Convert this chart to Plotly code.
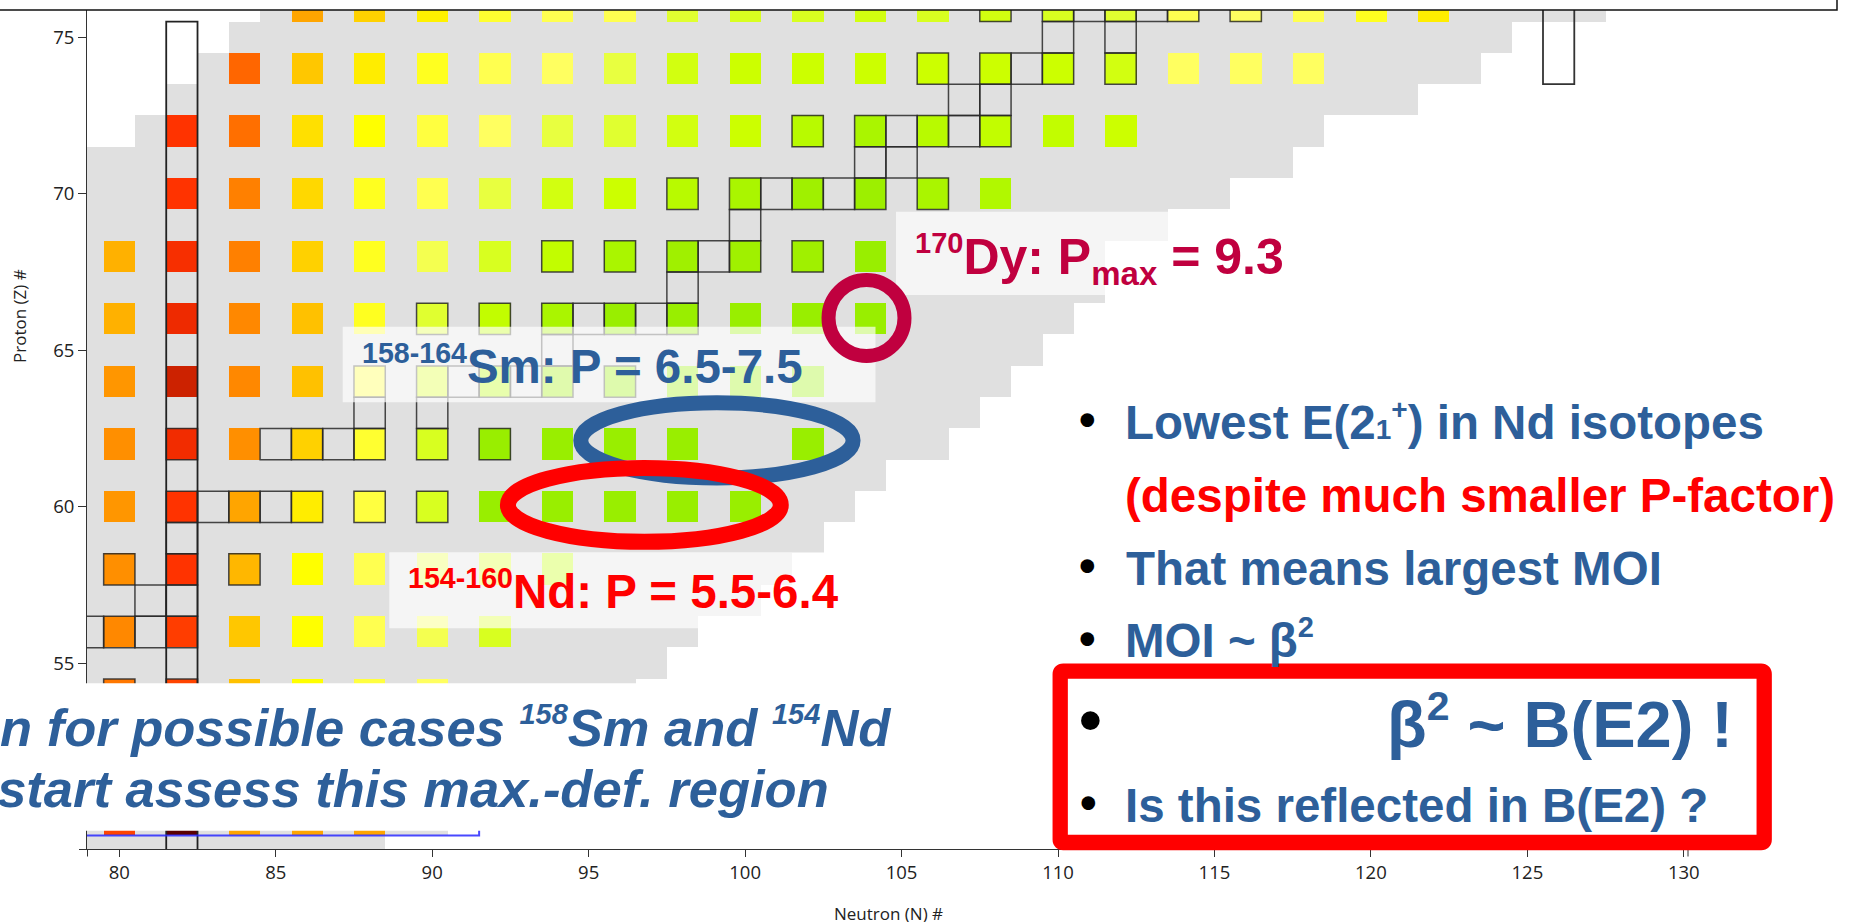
import plotly.graph_objects as go

# ------------------------------------------------------------------ data
# rows of the nuclear chart (proton number) and the neutron span of known nuclides
Z_ROWS     = [49, 50, 51, 52, 53, 54, 55, 56, 57, 58, 59, 60, 61, 62, 63, 64, 65, 66, 67, 68, 69, 70, 71, 72, 73, 74, 75, 76]
GRAY_N_MIN = [70, 70, 70, 70, 70, 70, 70, 70, 70, 70, 70, 70, 70, 70, 70, 70, 70, 70, 70, 70, 70, 70, 70, 81, 82, 83, 84, 85]
GRAY_N_MAX = [88, 90, 92, 94, 95, 96, 97, 98, 100, 101, 102, 103, 104, 106, 107, 108, 109, 110, 111, 111, 113, 115, 117, 118, 121, 123, 124, 127]

# even-even nuclei: neutron numbers and colour value (0 = maroon ... 100 = green)
N_Z50 = [80, 82, 84, 86, 88]
V_Z50 = [25, 0, 55, 55, 55]
N_Z54 = [80, 82, 84, 86, 88, 90]
V_Z54 = [38, 25, 64, 80, 84, 86]
N_Z56 = [80, 82, 84, 86, 88, 90, 92]
V_Z56 = [44, 23, 66, 80, 85, 87, 90]
N_Z58 = [80, 82, 84, 86, 88, 90, 92, 94]
V_Z58 = [47, 20, 61, 80, 85, 88, 90, 93]
N_Z60 = [80, 82, 84, 86, 88, 90, 92, 94, 96, 98, 100]
V_Z60 = [50, 20, 55, 76, 84, 90, 100, 100, 100, 100, 100]
N_Z62 = [80, 82, 84, 86, 88, 90, 92, 94, 96, 98, 102]
V_Z62 = [47, 17, 47, 69, 83, 90, 100, 100, 100, 100, 100]
N_Z64 = [80, 82, 84, 86, 88, 90, 92, 94, 96, 98, 100, 102]
V_Z64 = [50, 10, 44, 64, 83, 90, 94, 98, 100, 100, 100, 100]
N_Z66 = [80, 82, 84, 86, 88, 90, 92, 94, 96, 98, 100, 102, 104]
V_Z66 = [59, 16, 44, 64, 82, 89, 93, 96, 100, 100, 100, 100, 100]
N_Z68 = [80, 82, 84, 86, 88, 90, 92, 94, 96, 98, 100, 102, 104]
V_Z68 = [59, 18, 41, 69, 82, 87, 90, 93, 96, 98, 98, 98, 100]
N_Z70 = [82, 84, 86, 88, 90, 92, 94, 96, 98, 100, 102, 104, 106, 108]
V_Z70 = [20, 41, 71, 82, 85, 88, 91, 92, 94, 96, 98, 99, 96, 95]
N_Z72 = [82, 84, 86, 88, 90, 92, 94, 96, 98, 100, 102, 104, 106, 108, 110, 112]
V_Z72 = [20, 35, 73, 80, 84, 86, 88, 89, 91, 92, 94, 96, 94, 93, 93, 92]
N_Z74 = [84, 86, 88, 90, 92, 94, 96, 98, 100, 102, 104, 106, 108, 110, 112, 114, 116, 118]
V_Z74 = [32, 66, 76, 82, 85, 86, 88, 91, 92, 92, 92, 92, 92, 92, 91, 86, 86, 86]
N_Z76 = [86, 88, 90, 92, 94, 96, 98, 100, 102, 104, 106, 108, 110, 112, 114, 116, 118, 120, 122]
V_Z76 = [55, 69, 77, 83, 85, 85, 89, 90, 90, 91, 90, 91, 90, 89, 85, 86, 85, 82, 76]

# stable nuclides (outlined cells)
STABLE_Z = [54, 54, 56, 56, 56, 56, 57, 57, 58, 58, 58, 59,
            60, 60, 60, 60, 60, 60, 60, 62, 62, 62, 62, 62, 62, 62, 63, 63,
            64, 64, 64, 64, 64, 64, 64, 65, 66, 66, 66, 66, 66, 66, 66, 67,
            68, 68, 68, 68, 68, 68, 69, 70, 70, 70, 70, 70, 70, 70, 71, 71,
            72, 72, 72, 72, 72, 72, 73, 73, 74, 74, 74, 74, 74, 75, 75,
            76, 76, 76, 76, 76, 76, 76]
STABLE_N = [80, 82, 79, 80, 81, 82, 81, 82, 80, 82, 84, 82,
            82, 83, 84, 85, 86, 88, 90, 82, 85, 86, 87, 88, 90, 92, 88, 90,
            88, 90, 91, 92, 93, 94, 96, 94, 90, 92, 94, 95, 96, 97, 98, 98,
            94, 96, 98, 99, 100, 102, 100, 98, 100, 101, 102, 103, 104, 106, 104, 105,
            102, 104, 105, 106, 107, 108, 107, 108, 106, 108, 109, 110, 112, 110, 112,
            108, 110, 111, 112, 113, 114, 116]

X_TICKS = [80, 85, 90, 95, 100, 105, 110, 115, 120, 125, 130]
Y_TICKS = [55, 60, 65, 70, 75]

COLOR_STOPS = [0, 10, 16, 20, 25, 32, 38, 44, 50, 55, 60, 65, 70, 75, 80, 84, 86, 88, 90, 92, 94, 96, 98, 100]
COLOR_LIST = ['#5a0000', '#cc2200', '#ee2a00', '#ff3300', '#ff4400', '#ff6600', '#ff7700', '#ff8800',
              '#ff9600', '#ffa500', '#ffb400', '#ffc400', '#ffd400', '#ffe800', '#ffff00', '#ffff40',
              '#ffff60', '#e8ff40', '#d8ff20', '#ccff00', '#b8fa00', '#aaf500', '#a0f000', '#99ee00']

# ------------------------------------------------------------------ grids
N_GRID = list(range(68, 132))
Z_GRID = list(range(44, 82))
ee_rows = [(50, N_Z50, V_Z50), (54, N_Z54, V_Z54), (56, N_Z56, V_Z56), (58, N_Z58, V_Z58),
           (60, N_Z60, V_Z60), (62, N_Z62, V_Z62), (64, N_Z64, V_Z64), (66, N_Z66, V_Z66),
           (68, N_Z68, V_Z68), (70, N_Z70, V_Z70), (72, N_Z72, V_Z72), (74, N_Z74, V_Z74),
           (76, N_Z76, V_Z76)]

gray = [[None] * len(N_GRID) for _ in Z_GRID]
for z, lo, hi in zip(Z_ROWS, GRAY_N_MIN, GRAY_N_MAX):
    for n in range(lo, hi + 1):
        gray[Z_GRID.index(z)][N_GRID.index(n)] = 1

col = [[None] * len(N_GRID) for _ in Z_GRID]
for z, ns, vs in ee_rows:
    for n, v in zip(ns, vs):
        col[Z_GRID.index(z)][N_GRID.index(n)] = v

colorscale = [[s / 100.0, c] for s, c in zip(COLOR_STOPS, COLOR_LIST)]

fig = go.Figure()
fig.add_trace(go.Heatmap(x=N_GRID, y=Z_GRID, z=gray, colorscale=[[0, '#e0e0e0'], [1, '#e0e0e0']],
                         showscale=False, hoverinfo='skip', zmin=0, zmax=1))
fig.add_trace(go.Heatmap(x=N_GRID, y=Z_GRID, z=col, colorscale=colorscale, zmin=0, zmax=100,
                         showscale=False, hovertemplate='N=%{x}<br>Z=%{y}<extra></extra>'))

# ------------------------------------------------------------------ geometry helpers (pixels -> paper)
L, R, T, B = 87, 171, 0, 73
W = 1859 - L - R
H = 922 - T - B


def px(x):
    return (x - L) / W


def py(y):
    return (T + H - y) / H


shapes = []
for z, n in zip(STABLE_Z, STABLE_N):
    shapes.append(dict(type='rect', xref='x', yref='y', x0=n - 0.5, x1=n + 0.5, y0=z - 0.5, y1=z + 0.5,
                       line=dict(color='rgba(40,40,40,0.85)', width=1.5), fillcolor='rgba(0,0,0,0)', layer='above'))
# magic-number frames
shapes.append(dict(type='rect', xref='x', yref='y', x0=81.5, x1=82.5, y0=40, y1=75.5,
                   line=dict(color='#222', width=1.8), layer='above'))
shapes.append(dict(type='rect', xref='x', yref='y', x0=125.5, x1=126.5, y0=73.5, y1=85,
                   line=dict(color='#333', width=1.8), layer='above'))
shapes.append(dict(type='rect', xref='x', yref='y', x0=60, x1=91.5, y0=49.5, y1=50.5,
                   line=dict(color='rgba(40,40,255,0.85)', width=2), layer='above'))

# label boxes
for (x0, x1, y0, y1) in [(342.7, 875.5, 326.7, 402.3), (389.3, 857, 552.3, 628.3), (896, 1302, 211.7, 295)]:
    shapes.append(dict(type='rect', xref='paper', yref='paper', x0=px(x0), x1=px(x1), y0=py(y1), y1=py(y0),
                       line=dict(width=0), fillcolor='rgba(255,255,255,0.68)', layer='above'))

# ellipses
BLUE = '#2d5f9a'
RED = '#ff0000'
CRIMSON = '#c0003f'
shapes.append(dict(type='circle', xref='x', yref='y', x0=99.1 - 4.35, x1=99.1 + 4.35, y0=62.12 - 1.2, y1=62.12 + 1.2,
                   line=dict(color=BLUE, width=15), layer='above'))
shapes.append(dict(type='circle', xref='x', yref='y', x0=96.78 - 4.36, x1=96.78 + 4.36, y0=60.06 - 1.18, y1=60.06 + 1.18,
                   line=dict(color=RED, width=16), layer='above'))
shapes.append(dict(type='circle', xref='x', yref='y', x0=103.88 - 1.214, x1=103.88 + 1.214, y0=66.03 - 1.214, y1=66.03 + 1.214,
                   line=dict(color=CRIMSON, width=14), layer='above'))

# white cover behind the italic text
shapes.append(dict(type='rect', xref='paper', yref='paper', x0=px(-10), x1=px(905), y0=py(830.7), y1=py(683.3),
                   line=dict(width=0), fillcolor='white', layer='above'))
# title box border at the top
shapes.append(dict(type='rect', xref='paper', yref='paper', x0=px(-10), x1=px(1837), y0=py(10), y1=py(-10),
                   line=dict(color='#111', width=1.5), fillcolor='white', layer='above'))
# axis corner details
shapes.append(dict(type='line', xref='paper', yref='paper', x0=px(79), x1=px(87), y0=py(849.5), y1=py(849.5),
                   line=dict(color='#333', width=1), layer='above'))
for xx in (87.5, 1688):
    shapes.append(dict(type='line', xref='paper', yref='paper', x0=px(xx), x1=px(xx), y0=py(849), y1=py(856.5),
                       line=dict(color='#333', width=1), layer='above'))


# rounded red frame
def rrect(x0, y0, x1, y1, r):
    pts = [('M', x0 + r, y0), ('L', x1 - r, y0), ('Q', x1, y0, x1, y0 + r), ('L', x1, y1 - r),
           ('Q', x1, y1, x1 - r, y1), ('L', x0 + r, y1), ('Q', x0, y1, x0, y1 - r), ('L', x0, y0 + r),
           ('Q', x0, y0, x0 + r, y0)]
    s = ''
    for p in pts:
        cmd = p[0]
        coords = p[1:]
        parts = []
        for i in range(0, len(coords), 2):
            parts.append('%.6f,%.6f' % (px(coords[i]), py(coords[i + 1])))
        s += cmd + ' ' + ' '.join(parts) + ' '
    return s + 'Z'


shapes.append(dict(type='path', xref='paper', yref='paper', path=rrect(1060.2, 671.2, 1764.2, 842.5, 3),
                   line=dict(color=RED, width=15.3), layer='above'))

fig.update_layout(shapes=shapes)

# ------------------------------------------------------------------ text
ann = []
FONT = 'Liberation Sans'


def sm(t, size):
    return '<span style="font-size:%.1fpx">%s</span>' % (size, t)


def text(t, x, ybot, size, color, anchor='left', italic=False):
    ann.append(dict(text=t, xref='paper', yref='paper', x=px(x), y=py(ybot), xanchor=anchor, yanchor='bottom',
                    showarrow=False, borderpad=0,
                    font=dict(family=FONT, size=size, color=color, weight='bold',
                              style='italic' if italic else 'normal')))


FS = 47.5
text('Lowest E(2' + sm('1', 28) + '<sup>' + sm('+', 28) + '</sup>) in Nd isotopes', 1123.8, 440 + 0.212 * FS, FS, BLUE)
text('(despite much smaller P-factor)', 1124.4, 512.7 + 0.212 * FS, FS, RED)
text('That means largest MOI', 1125, 585.7 + 0.212 * FS, FS, BLUE)
text('MOI ~ β<sup>' + sm('2', 29) + '</sup>', 1123.5, 658 + 0.212 * FS, FS, BLUE)
text('β<sup>' + sm('2', 41) + '</sup> ~ B(E2) !', 1733.8, 748.3 + 0.212 * 65, 65, BLUE, anchor='right')
text('Is this reflected in B(E2) ?', 1124.3, 823.3 + 0.212 * FS, FS, BLUE)
for (bx, by, bs) in [(1087.7, 420, FS), (1087.7, 565.7, FS), (1087.7, 639, FS), (1090.5, 719.5, 65), (1088, 802.5, FS)]:
    text('•', bx, by + 0.572 * bs, bs, 'black', anchor='center')

text('<sup>' + sm('158-164', 28.6) + '</sup>Sm: P = 6.5-7.5', 361, 384 + 0.212 * FS, FS, BLUE)
text('<sup>' + sm('154-160', 28.6) + '</sup>Nd: P = 5.5-6.4', 406.5, 609.3 + 0.212 * FS, FS, RED)
text('<sup>' + sm('170', 29) + '</sup>Dy: P<sub>' + sm('max', 33) + '</sub> = 9.3', 913.5, 275 + 0.358 * 50, 50, CRIMSON)

FI = 52.5
text('campaign for possible cases <sup>' + sm('158', 29) + '</sup>Sm and <sup>' + sm('154', 29) + '</sup>Nd',
     892, 746.7 + 0.212 * FI, FI, BLUE, anchor='right', italic=True)
text('to start assess this max.-def. region', 829.5, 808 + 0.212 * FI, FI, BLUE, anchor='right', italic=True)

ann.append(dict(text='Neutron (N) #', xref='paper', yref='paper', x=px(888), y=py(913.5), xanchor='center',
                yanchor='middle', showarrow=False, font=dict(family='Open Sans', size=17, color='#222')))
ann.append(dict(text='Proton (Z) #', xref='paper', yref='paper', x=px(19), y=py(316), xanchor='center',
                yanchor='middle', showarrow=False, textangle=-90,
                font=dict(family='Open Sans', size=17, color='#222')))

fig.update_layout(
    annotations=ann,
    width=1859, height=922,
    margin=dict(l=L, r=R, t=T, b=B, pad=0),
    paper_bgcolor='white', plot_bgcolor='white',
    showlegend=False,
    xaxis=dict(range=[78.968, 130.134], tickvals=X_TICKS, ticks='outside', ticklen=7, tickcolor='#333',
               showline=True, linecolor='#333', linewidth=1, showgrid=False, zeroline=False,
               tickfont=dict(family='Open Sans', size=18.5, color='#222')),
    yaxis=dict(range=[49.067, 76.19], tickvals=Y_TICKS, ticks='outside', ticklen=8, tickcolor='#333',
               showline=True, linecolor='#333', linewidth=1, showgrid=False, zeroline=False,
               tickfont=dict(family='Open Sans', size=18.5, color='#222')),
)

fig.write_html('out.html', config={'displayModeBar': False},
               post_script="document.body.style.margin='0';document.body.style.overflow='hidden';")
